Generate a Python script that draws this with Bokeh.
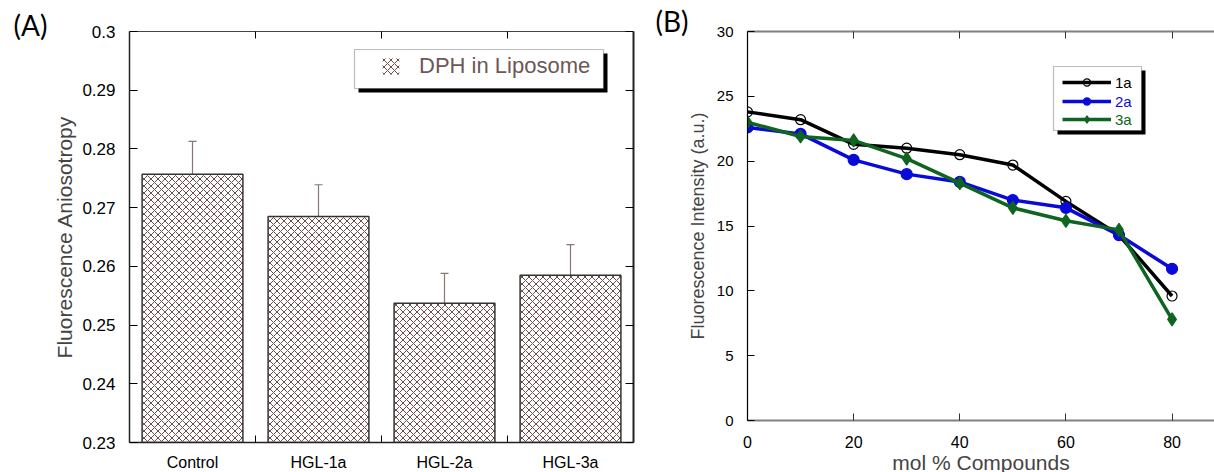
from bokeh.plotting import figure
from bokeh.models import (ColumnDataSource, Range1d, FixedTicker, SingleIntervalTicker,
                          LinearAxis, Whisker, TeeHead, Legend, LegendItem, Title,
                          BoxAnnotation, NumeralTickFormatter)
from bokeh.layouts import row
from bokeh.embed import file_html
from bokeh.resources import INLINE

# ---------------- data ----------------
categories = ["Control", "HGL-1a", "HGL-2a", "HGL-3a"]
aniso = [0.2757, 0.2685, 0.2537, 0.2585]
aniso_err = [0.0056, 0.0054, 0.0051, 0.0052]

mol_pct = [0, 10, 20, 30, 40, 50, 60, 70, 80]
int_1a = [23.8, 23.2, 21.3, 21.0, 20.5, 19.7, 16.9, 14.3, 9.6]
int_2a = [22.6, 22.1, 20.1, 19.0, 18.4, 17.0, 16.4, 14.3, 11.7]
int_3a = [23.0, 21.9, 21.6, 20.2, 18.3, 16.4, 15.4, 14.7, 7.8]

FONT = "Liberation Sans"


def panel_letter(text, offset):
    kw = dict(text=text, align="left", offset=offset,
              text_font="Lato", text_font_size="28px", text_font_style="normal",
              text_color="black")
    try:
        return Title(standoff=-20, **kw)
    except Exception:
        return Title(standoff=0, **kw)


# ---------------- panel A ----------------
xs = [i + 0.5 for i in range(len(categories))]
bounds = [i for i in range(1, len(categories))]
srcA = ColumnDataSource(dict(
    x=xs, top=aniso,
    upper=[a + e for a, e in zip(aniso, aniso_err)],
    lower=[a - e for a, e in zip(aniso, aniso_err)],
))

p1 = figure(frame_width=504, frame_height=411,
            x_range=Range1d(0, len(categories)), y_range=Range1d(0.23, 0.30),
            output_backend="svg", toolbar_location=None,
            min_border_left=129, min_border_top=30, min_border_right=7, min_border_bottom=31)
p1.outline_line_color = None
p1.grid.visible = False

hatched = p1.vbar(x="x", top="top", bottom=0, width=0.8, source=srcA,
                  fill_color="white", line_color=None,
                  hatch_pattern="x", hatch_color="#6e4c4c", hatch_scale=7, hatch_weight=1)
p1.vbar(x="x", top="top", bottom=0, width=0.8, source=srcA,
        fill_color=None, line_color="#333333", line_width=1.5)

wk = Whisker(source=srcA, base="x", upper="upper", lower="lower",
             line_color="#8a7474", line_width=1.2,
             upper_head=TeeHead(size=8, line_color="#8a7474", line_width=1.2),
             lower_head=TeeHead(size=8, line_color="#8a7474", line_width=1.2))
p1.add_layout(wk)

xt = FixedTicker(ticks=xs, minor_ticks=bounds)
xa = p1.xaxis[0]
xa.ticker = xt
xa.major_label_overrides = {x: c for x, c in zip(xs, categories)}
xa.major_tick_line_color = None
xa.major_tick_in = 0
xa.major_tick_out = 0
xa.minor_tick_in = 7
xa.minor_tick_out = 0
xa.minor_tick_line_color = "black"
xa.axis_line_color = "#222222"
xa.axis_line_width = 1.5
xa.major_label_text_font = FONT
xa.major_label_text_font_size = "16px"
xa.major_label_text_color = "black"
xa.major_label_standoff = 11

ya = p1.yaxis[0]
ya.ticker = SingleIntervalTicker(interval=0.01)
ya.formatter = NumeralTickFormatter(format="0.[00]")
ya.major_tick_in = 8
ya.major_tick_out = 0
ya.minor_tick_line_color = None
ya.axis_line_color = "#222222"
ya.axis_line_width = 1.5
ya.major_label_text_font = FONT
ya.major_label_text_font_size = "17px"
ya.major_label_text_color = "black"
ya.major_label_standoff = 10
ya.axis_label = "Fluorescence Aniosotropy"
ya.axis_label_text_font = FONT
ya.axis_label_text_font_size = "21px"
ya.axis_label_text_font_style = "normal"
ya.axis_label_standoff = 3

top1 = LinearAxis(ticker=FixedTicker(ticks=xs, minor_ticks=bounds),
                  major_tick_line_color=None, major_tick_in=0, major_tick_out=0,
                  minor_tick_in=7, minor_tick_out=0, major_label_standoff=0,
                  minor_tick_line_color="black", major_label_text_font_size="0px",
                  axis_line_color="#444444", axis_line_width=1.2)
p1.add_layout(top1, "above")
right1 = LinearAxis(ticker=SingleIntervalTicker(interval=0.01),
                    major_tick_in=8, major_tick_out=0, minor_tick_line_color=None,
                    major_label_text_font_size="0px",
                    axis_line_color="#222222", axis_line_width=2)
p1.add_layout(right1, "right")

# legend A: shadow + box + legend
p1.add_layout(BoxAnnotation(left=229, right=478, top=389, bottom=350,
                            left_units="screen", right_units="screen",
                            top_units="screen", bottom_units="screen",
                            fill_color="black", fill_alpha=1, line_color=None))
p1.add_layout(BoxAnnotation(left=225, right=474, top=393, bottom=354,
                            left_units="screen", right_units="screen",
                            top_units="screen", bottom_units="screen",
                            fill_color="white", fill_alpha=1, line_color="#222222", line_width=1.2))
legA = Legend(items=[LegendItem(label="DPH in Liposome", renderers=[hatched])],
              location=(251, 363), padding=0, margin=0, spacing=0,
              glyph_width=21, glyph_height=20, label_height=20, label_standoff=18,
              label_text_font=FONT, label_text_font_size="22px", label_text_color="#6d5858",
              background_fill_alpha=0, border_line_color=None)
p1.add_layout(legA)

p1.add_layout(panel_letter("(A)", -116), "above")

# ---------------- panel B ----------------
p2 = figure(frame_width=467, frame_height=389,
            x_range=Range1d(0, 88), y_range=Range1d(0, 30),
            output_backend="svg", toolbar_location=None,
            min_border_left=107, min_border_top=31, min_border_right=0, min_border_bottom=52)
p2.outline_line_color = None
p2.grid.visible = False

series = [
    ("1a", int_1a, "black", "circle", 10, None),
    ("2a", int_2a, "#0a0ad8", "circle", 11, "#0a0ad8"),
    ("3a", int_3a, "#0e6420", "diamond", 13, "#0e6420"),
]
legend_rows = []
for name, vals, col, mk, sz, fc in series:
    src = ColumnDataSource(dict(x=mol_pct, y=vals))
    lr = p2.line("x", "y", source=src, line_color=col, line_width=3.5)
    sr = p2.scatter("x", "y", source=src, marker=mk, size=sz,
                    line_color=col, fill_color=fc, line_width=1.2)
    legend_rows.append((name, col, lr, sr))

xb = p2.xaxis[0]
xb.ticker = SingleIntervalTicker(interval=20)
xb.major_tick_in = 7
xb.major_tick_out = 0
xb.minor_tick_line_color = None
xb.axis_line_color = "#808080"
xb.axis_line_width = 2
xb.major_tick_line_color = "#333333"
xb.major_label_text_font = FONT
xb.major_label_text_font_size = "16px"
xb.major_label_text_color = "black"
xb.major_label_standoff = 11
xb.axis_label = "mol % Compounds"
xb.axis_label_text_font = FONT
xb.axis_label_text_font_size = "21px"
xb.axis_label_text_font_style = "normal"
xb.axis_label_standoff = 0

yb = p2.yaxis[0]
yb.ticker = SingleIntervalTicker(interval=5)
yb.major_tick_in = 7
yb.major_tick_out = 0
yb.minor_tick_line_color = None
yb.axis_line_color = "black"
yb.axis_line_width = 1.2
yb.major_label_text_font = FONT
yb.major_label_text_font_size = "15px"
yb.major_label_text_color = "black"
yb.major_label_standoff = 10
yb.axis_label = "Fluorescence Intensity (a.u.)"
yb.axis_label_text_font = FONT
yb.axis_label_text_font_size = "18px"
yb.axis_label_text_font_style = "normal"
yb.axis_label_standoff = 6

top2 = LinearAxis(ticker=SingleIntervalTicker(interval=20),
                  major_tick_in=7, major_tick_out=0, minor_tick_line_color=None,
                  major_tick_line_color="#333333", major_label_text_font_size="0px",
                  axis_line_color="#808080", axis_line_width=2)
p2.add_layout(top2, "above")

# legend B: shadow + box + one legend per row (coloured labels)
p2.add_layout(BoxAnnotation(left=310, right=398, top=350, bottom=286,
                            left_units="screen", right_units="screen",
                            top_units="screen", bottom_units="screen",
                            fill_color="black", fill_alpha=1, line_color=None))
p2.add_layout(BoxAnnotation(left=306, right=394, top=354, bottom=290,
                            left_units="screen", right_units="screen",
                            top_units="screen", bottom_units="screen",
                            fill_color="white", fill_alpha=1, line_color="#222222", line_width=1.2))
row_bottoms = [329, 310, 292]
for (name, col, lr, sr), yb0 in zip(legend_rows, row_bottoms):
    lg = Legend(items=[LegendItem(label=name, renderers=[lr, sr])],
                location=(315, yb0), padding=0, margin=0, spacing=0,
                glyph_width=49, glyph_height=18, label_height=18, label_standoff=4,
                label_text_font=FONT, label_text_font_size="15px", label_text_color=col,
                background_fill_alpha=0, border_line_color=None)
    p2.add_layout(lg)

p2.add_layout(panel_letter("(B)", -92), "above")

layout = row(p1, p2, spacing=0)
open("out.html", "w").write(file_html(layout, INLINE))
